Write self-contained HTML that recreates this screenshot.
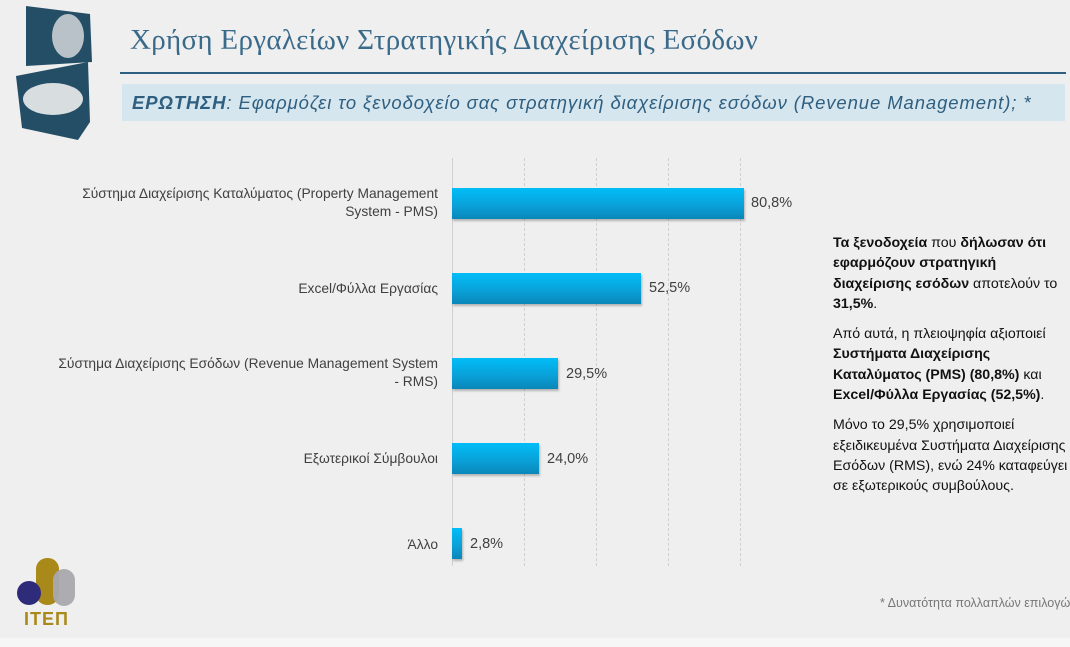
<!DOCTYPE html>
<html><head><meta charset="utf-8"><style>
body{margin:0;width:1070px;height:647px;background:#efefef;position:relative;overflow:hidden;font-family:"Liberation Sans","DejaVu Sans",sans-serif}
.abs{position:absolute}
.lbl{position:absolute;right:632px;text-align:right;font-size:13.8px;color:#404040;line-height:18px;width:420px}
.bar{position:absolute;left:452px;height:31px;background:linear-gradient(#00bdf8,#0a9fd6 60%,#0a86b8);box-shadow:1px 2px 2px rgba(0,0,0,.25)}
.val{position:absolute;font-size:14.5px;color:#404040}
.grid{position:absolute;top:158px;height:408px;border-left:1px dashed #d0d0d0}
.side{position:absolute;left:833px;width:236px;font-family:"Liberation Sans","DejaVu Sans",sans-serif;font-size:14.2px;line-height:20.3px;color:#111}
.side p{margin:0 0 10px}
</style></head><body>
<svg class="abs" style="left:8px;top:4px" width="86" height="138">
<path d="M18 2 L82 10 L84 58 L18 62 Z" fill="#244e66"/>
<path d="M8 72 L80 58 L82 118 L70 136 L14 124 Z" fill="#244e66"/>
<ellipse cx="60" cy="32" rx="16" ry="22" fill="#b9c2c8"/>
<ellipse cx="45" cy="95" rx="30" ry="16" fill="#d8dde0"/>
</svg>
<div class="abs" style="left:130px;top:24px;font-family:'Liberation Serif',serif;font-size:29px;color:#3a6a8a;letter-spacing:0.3px">Χρήση Εργαλείων Στρατηγικής Διαχείρισης Εσόδων</div>
<div class="abs" style="left:120px;top:72px;width:946px;height:2px;background:#2f5f80"></div>
<div class="abs" style="left:122px;top:84px;width:943px;height:37px;background:#d6e6ef"></div>
<div class="abs" style="left:132px;top:92px;font-size:18.5px;font-style:italic;color:#2f5f80;letter-spacing:0.9px;white-space:nowrap"><b>ΕΡΩΤΗΣΗ</b>: Εφαρμόζει το ξενοδοχείο σας στρατηγική διαχείρισης εσόδων (Revenue Management); *</div>

<div class="grid" style="left:452px;border-left:1px solid #d0d0d0"></div>
<div class="grid" style="left:524px"></div>
<div class="grid" style="left:596px"></div>
<div class="grid" style="left:668px"></div>
<div class="grid" style="left:740px"></div>

<div class="lbl" style="top:185px">Σύστημα Διαχείρισης Καταλύματος (Property Management<br>System - PMS)</div>
<div class="lbl" style="top:280px">Excel/Φύλλα Εργασίας</div>
<div class="lbl" style="top:355px">Σύστημα Διαχείρισης Εσόδων (Revenue Management System<br>- RMS)</div>
<div class="lbl" style="top:450px">Εξωτερικοί Σύμβουλοι</div>
<div class="lbl" style="top:536px">Άλλο</div>

<div class="bar" style="top:188px;width:292px"></div>
<div class="bar" style="top:273px;width:189px"></div>
<div class="bar" style="top:358px;width:106px"></div>
<div class="bar" style="top:443px;width:87px"></div>
<div class="bar" style="top:528px;width:10px"></div>

<div class="val" style="left:751px;top:195px">80,8%</div>
<div class="val" style="left:649px;top:280px">52,5%</div>
<div class="val" style="left:566px;top:366px">29,5%</div>
<div class="val" style="left:547px;top:451px">24,0%</div>
<div class="val" style="left:470px;top:536px">2,8%</div>

<div class="side" style="top:233px">
<p><b>Τα ξενοδοχεία</b> που <b>δήλωσαν ότι εφαρμόζουν στρατηγική διαχείρισης εσόδων</b> αποτελούν το <b>31,5%</b>.</p>
<p>Από αυτά, η πλειοψηφία αξιοποιεί <b>Συστήματα Διαχείρισης Καταλύματος (PMS) (80,8%)</b> και <b>Excel/Φύλλα Εργασίας (52,5%)</b>.</p>
<p>Μόνο το 29,5% χρησιμοποιεί εξειδικευμένα Συστήματα Διαχείρισης Εσόδων (RMS), ενώ 24% καταφεύγει σε εξωτερικούς συμβούλους.</p>
</div>
<div class="abs" style="left:880px;top:596px;font-size:12.5px;color:#777;white-space:nowrap">* Δυνατότητα πολλαπλών επιλογών</div>

<svg class="abs" style="left:16px;top:556px" width="62" height="52">
<rect x="20" y="2" width="23" height="47" rx="11" fill="#a8891a"/>
<rect x="37" y="13" width="22" height="37" rx="11" fill="#a9a9ad" opacity=".95"/>
<circle cx="13" cy="37" r="12" fill="#2e2c7a"/>
</svg>
<div class="abs" style="left:24px;top:609px;font-size:18px;font-weight:bold;color:#a8891a;letter-spacing:1px">ITEП</div>
<div class="abs" style="left:0;top:638px;width:1070px;height:9px;background:#f6f6f6"></div>
</body></html>
